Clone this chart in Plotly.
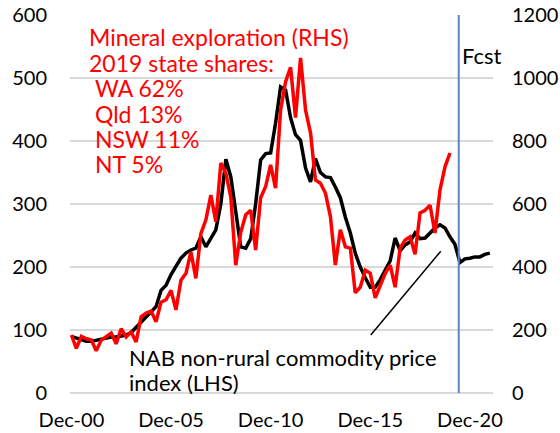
import pandas as pd
import plotly.graph_objects as go

# Quarterly data, Dec-00 onwards
dates = pd.date_range("2000-12-01", periods=85, freq="3MS")

# NAB non-rural commodity price index (LHS), actuals + forecast to Dec-21
commodity = [
    90, 87, 85, 82, 82, 84, 86, 88, 89, 89,
    90, 92, 96, 104, 112, 121, 130, 137, 163, 171,
    188, 200, 214, 222, 227, 230, 248, 232, 245, 259,
    300, 371, 343, 285, 232, 230, 245, 300, 370, 380,
    381, 428, 486, 481, 437, 410, 401, 357, 335, 372,
    350, 343, 342, 327, 310, 279, 254, 222, 200, 183,
    168, 168, 180, 195, 210, 246, 226, 235, 240, 254,
    245, 246, 254, 262, 267, 262, 248, 236, 207, 213,
    214, 216, 216, 220, 222,
]

# Mineral exploration expenditure (RHS), Dec-00 to Dec-19
exploration = [
    184, 142, 180, 172, 168, 134, 168, 180, 190, 156,
    204, 178, 194, 162, 242, 254, 260, 226, 288, 296,
    326, 264, 358, 380, 448, 364, 506, 550, 628, 544,
    730, 698, 622, 406, 510, 566, 580, 454, 620, 656,
    724, 650, 898, 988, 1034, 874, 1064, 898, 826, 676,
    666, 634, 560, 406, 518, 464, 460, 318, 336, 390,
    380, 302, 342, 380, 406, 336, 460, 486, 496, 440,
    572, 580, 596, 508, 644, 718, 762,
]

tick_dates = ["2000-12-01", "2005-12-01", "2010-12-01", "2015-12-01", "2020-12-01"]
tick_labels = ["Dec-00", "Dec-05", "Dec-10", "Dec-15", "Dec-20"]

forecast_start = "2020-05-10"

red_notes = ["Mineral exploration (RHS)", "2019 state shares:"]
state_notes = ["WA 62%", "Qld 13%", "NSW 11%", "NT 5%"]
black_notes = ["NAB non-rural commodity price", "index (LHS)"]

FONT = "Lato"

fig = go.Figure()

fig.add_trace(go.Scatter(
    x=dates[:len(exploration)], y=exploration,
    mode="lines", line=dict(color="#ff0000", width=3.5),
    yaxis="y2", name="Mineral exploration (RHS)",
))

fig.add_trace(go.Scatter(
    x=dates, y=commodity,
    mode="lines", line=dict(color="#000000", width=3.5),
    name="NAB non-rural commodity price index (LHS)",
))

# forecast divider
fig.add_shape(type="line", xref="x", yref="paper",
              x0=forecast_start, x1=forecast_start, y0=0, y1=1,
              line=dict(color="#5b87c8", width=2))

# pointer from label to the commodity line
fig.add_shape(type="line", xref="x", yref="y",
              x0="2015-12-10", y0=92, x1="2019-06-15", y1=225,
              line=dict(color="#000000", width=1.5))

annotations = []
for i, t in enumerate(red_notes):
    annotations.append(dict(text=t, x=0.040, y=0.942 - i * 0.068,
                            font=dict(color="#ff0000", size=23)))
for i, t in enumerate(state_notes):
    annotations.append(dict(text=t, x=0.054, y=0.806 - i * 0.067,
                            font=dict(color="#ff0000", size=23)))
for i, t in enumerate(black_notes):
    annotations.append(dict(text=t, x=0.135, y=0.095 - i * 0.066,
                            font=dict(color="#000000", size=22)))
annotations.append(dict(text="Fcst", x=0.921, y=0.892,
                        font=dict(color="#000000", size=22)))

for a in annotations:
    a.update(xref="paper", yref="paper", showarrow=False,
             xanchor="left", yanchor="middle")
    a["font"].update(family=FONT)

fig.update_layout(
    width=560, height=433,
    margin=dict(l=70, r=67, t=15, b=40),
    plot_bgcolor="white", paper_bgcolor="white",
    showlegend=False,
    font=dict(family=FONT, size=20, color="#000000"),
    annotations=annotations,
    xaxis=dict(
        type="date", range=["2000-11-05", "2022-01-28"],
        tickvals=tick_dates, ticktext=tick_labels,
        showgrid=False, zeroline=False, showline=False, ticks="",
        ticklabelstandoff=13, automargin=False,
    ),
    yaxis=dict(
        range=[0, 600], dtick=100,
        gridcolor="#d9d9d9", gridwidth=2,
        zeroline=True, zerolinecolor="#d9d9d9", zerolinewidth=2,
        showline=False, ticks="", ticklabelstandoff=22, automargin=False,
        ticklabeloverflow="allow",
    ),
    yaxis2=dict(
        range=[0, 1200], dtick=200,
        overlaying="y", side="right",
        showgrid=False, zeroline=False, showline=False, ticks="",
        ticklabelstandoff=18, automargin=False,
        ticklabeloverflow="allow",
    ),
)

# drop the default body margin so the figure fills the window
fig.write_html("out.html", config={"displayModeBar": False},
               post_script="document.body.style.margin = '0';")
